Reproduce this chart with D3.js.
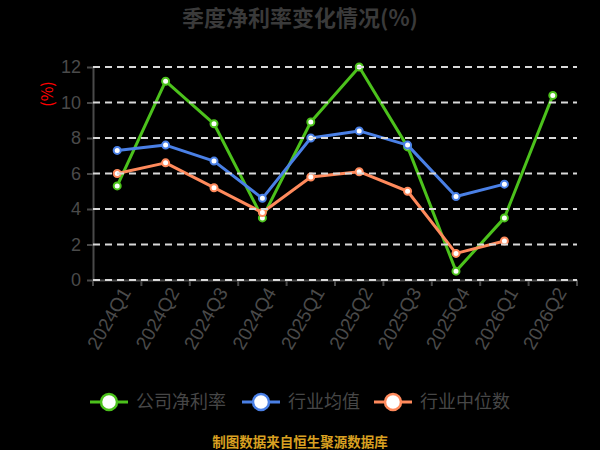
<!DOCTYPE html>
<html>
  <head>
    <meta charset="utf-8">
    <title>季度净利率变化情况</title>
    <script src="https://cdn.jsdelivr.net/npm/d3@7"></script>
    <style>
      body { margin: 0; background: #000; }
      #chart { display: block; font-family: "Noto Sans CJK SC", "Noto Sans", sans-serif; }
      .axis text { fill: #4a4a4a; font-size: 18px; }
      .axis path, .axis line { stroke: #4a4a4a; stroke-width: 2; }
      .grid line { stroke: #d9d9d9; stroke-width: 2; stroke-dasharray: 7 5; }
      .series path { fill: none; stroke-width: 3; stroke-linejoin: round; }
      .series circle { fill: #fff; stroke-width: 2; }
    </style>
  </head>

  <body>
    <svg id="chart" width="600" height="450">
      <g id="gridGroup" class="grid"></g>
      <g id="xAxisGroup" class="axis"></g>
      <g id="yAxisGroup" class="axis"></g>
      <g id="chartGroup"></g>
      <g id="legendGroup"></g>
    </svg>

    <script>
      // data
      quarters = ["2024Q1", "2024Q2", "2024Q3", "2024Q4", "2025Q1", "2025Q2", "2025Q3", "2025Q4", "2026Q1", "2026Q2"];
      companyMargin = [5.3, 11.2, 8.8, 3.5, 8.9, 12.0, 7.5, 0.5, 3.5, 10.4];
      industryMean = [7.3, 7.6, 6.7, 4.6, 8.0, 8.4, 7.6, 4.7, 5.4, null];
      industryMedian = [6.0, 6.6, 5.2, 3.8, 5.8, 6.1, 5.0, 1.5, 2.2, null];
      yTicks = [0, 2, 4, 6, 8, 10, 12];
      seriesNames = ["公司净利率", "行业均值", "行业中位数"];
      seriesColours = ["#4cc21c", "#4a80e6", "#ff8a5c"];

      series = [companyMargin, industryMean, industryMedian]
        .map((values, i) => ({
          name: seriesNames[i],
          colour: seriesColours[i],
          points: values.map((v, j) => ({ q: quarters[j], v: v }))
            .filter(d => d.v != null)
        }));

      // elements
      chart = d3.select("#chart");
      gridGroup = d3.select("#gridGroup");
      xAxisGroup = d3.select("#xAxisGroup");
      yAxisGroup = d3.select("#yAxisGroup");
      chartGroup = d3.select("#chartGroup");
      legendGroup = d3.select("#legendGroup");

      margin = { top: 67, right: 23, bottom: 170, left: 93 };
      width = 600;
      height = 450;

      x = d3.scaleBand()
        .domain(quarters)
        .range([margin.left, width - margin.right])
        .padding(0);

      y = d3.scaleLinear()
        .domain([0, 12])
        .range([height - margin.bottom, margin.top]);

      // title
      chart.append("text")
        .attr("x", 300)
        .attr("y", 26)
        .attr("text-anchor", "middle")
        .style("font-size", "22px")
        .style("font-weight", "bold")
        .style("fill", "#3a3a3a")
        .text("季度净利率变化情况(%)");

      // unit label
      chart.append("text")
        .attr("transform", "translate(47, 94) rotate(-90)")
        .attr("text-anchor", "middle")
        .attr("dy", "0.35em")
        .style("font-size", "16px")
        .style("fill", "#ff0000")
        .text("(%)");

      // grid
      gridGroup.selectAll("line")
          .data(yTicks)
        .enter().append("line")
          .attr("x1", margin.left)
          .attr("x2", width - margin.right)
          .attr("y1", d => y(d))
          .attr("y2", d => y(d));

      // axes
      xAxis = d3.axisBottom(x)
        .tickSize(0)
        .tickPadding(10);
      xAxisGroup.attr("transform", "translate(0, " + y(0) + ")")
        .call(xAxis);
      xAxisGroup.selectAll(".tick text")
        .style("font-size", "19px")
        .attr("text-anchor", "end")
        .attr("dy", "0.35em")
        .attr("transform", "translate(0, 4) rotate(-60)");

      // band boundary ticks
      xAxisGroup.selectAll(".bandTick")
          .data(quarters.concat(["end"]))
        .enter().append("line")
          .classed("bandTick", true)
          .attr("x1", (d, i) => i < quarters.length ? x(d) : x.range()[1])
          .attr("x2", (d, i) => i < quarters.length ? x(d) : x.range()[1])
          .attr("y1", 0)
          .attr("y2", 6);

      yAxis = d3.axisLeft(y)
        .tickValues(yTicks)
        .tickSize(6)
        .tickSizeOuter(0)
        .tickPadding(6);
      yAxisGroup.attr("transform", "translate(" + margin.left + ", 0)")
        .call(yAxis);
      gridGroup.raise();

      // lines
      line = d3.line()
        .x(d => x(d.q) + x.bandwidth() / 2)
        .y(d => y(d.v));

      groups = chartGroup.selectAll(".series")
          .data(series)
        .enter().append("g")
          .classed("series", true);

      groups.append("path")
        .attr("d", d => line(d.points))
        .style("stroke", d => d.colour);

      groups.selectAll("circle")
          .data(d => d.points.map(p => Object.assign({ colour: d.colour }, p)))
        .enter().append("circle")
          .attr("cx", d => x(d.q) + x.bandwidth() / 2)
          .attr("cy", d => y(d.v))
          .attr("r", 3.5)
          .style("stroke", d => d.colour);

      // legend
      legendX = [90, 242, 374];
      items = legendGroup.selectAll(".item")
          .data(series)
        .enter().append("g")
          .classed("item", true)
          .attr("transform", (d, i) => "translate(" + legendX[i] + ", 402)");

      items.append("line")
        .attr("x1", 0)
        .attr("x2", 38)
        .style("stroke", d => d.colour)
        .style("stroke-width", 3);

      items.append("circle")
        .attr("cx", 19)
        .attr("r", 8)
        .style("fill", "#fff")
        .style("stroke", d => d.colour)
        .style("stroke-width", 2.5);

      items.append("text")
        .attr("x", 46)
        .attr("dy", "0.35em")
        .style("font-size", "18px")
        .style("fill", "#474747")
        .text(d => d.name);

      // footer
      chart.append("text")
        .attr("x", 300)
        .attr("y", 447)
        .attr("text-anchor", "middle")
        .style("font-size", "13.5px")
        .style("font-weight", "bold")
        .style("fill", "#d9a021")
        .text("制图数据来自恒生聚源数据库");
    </script>
  </body>
</html>
